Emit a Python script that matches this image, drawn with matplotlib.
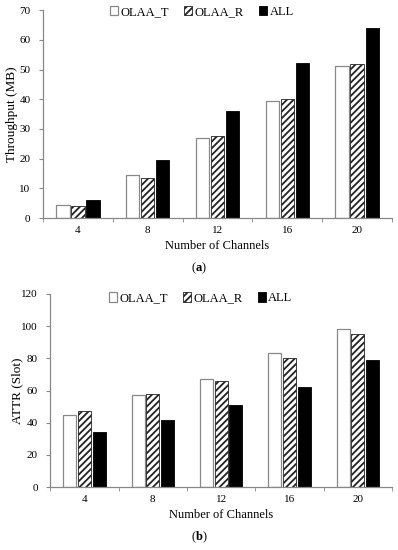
import matplotlib.pyplot as plt
import numpy as np

channels = ['4', '8', '12', '16', '20']
series = ['OLAA_T', 'OLAA_R', 'ALL']

throughput_t = [4.5, 14.5, 27.0, 39.3, 51.3]
throughput_r = [4.2, 13.5, 27.5, 40.0, 52.0]
throughput_all = [6.0, 19.5, 36.2, 52.3, 64.0]

attr_t = [45, 57, 67, 83, 98]
attr_r = [47, 58, 66, 80, 95]
attr_all = [34.5, 41.5, 51, 62, 79]

plt.rcParams['font.family'] = ['Liberation Serif', 'DejaVu Serif']
plt.rcParams['mathtext.fontset'] = 'custom'
plt.rcParams['mathtext.rm'] = 'Liberation Serif'
plt.rcParams['mathtext.bf'] = 'Liberation Serif:bold'
plt.rcParams['hatch.linewidth'] = 1.3

fig = plt.figure(figsize=(3.98, 5.5), dpi=100)
ax1 = fig.add_axes([0.108, 0.6036, 0.877, 0.378])
ax2 = fig.add_axes([0.126, 0.1145, 0.859, 0.351])

styles = [dict(facecolor='white', edgecolor='#888888', linewidth=0.9),
          dict(facecolor='white', edgecolor='#222222', hatch='/////', linewidth=0.6),
          dict(facecolor='black', edgecolor='black', linewidth=0.6)]


def draw(ax, data, ymax, ystep, ylabel, tag, tag_y, leg_x, leg_y, ylab_x):
    x = np.arange(1, len(channels) + 1)
    w = 0.19
    off = 0.215
    for i, (vals, st) in enumerate(zip(data, styles)):
        ax.bar(x + (i - 1) * off, vals, w, label=series[i], **st)
    ax.set_xlim(0.5, len(channels) + 0.5)
    ax.set_ylim(0, ymax)
    ax.set_yticks(np.arange(0, ymax + 1, ystep))
    ax.set_xticks(x)
    ax.set_xticklabels(channels)
    ax.set_xticks(np.arange(0.5, len(channels) + 1, 1), minor=True)
    ax.tick_params(axis='x', which='major', length=0, labelsize=8, pad=6)
    ax.tick_params(axis='x', which='minor', length=3, color='#888888', direction='out')
    ax.tick_params(axis='y', length=3, color='#888888', labelsize=8, pad=6)
    for s in ['top', 'right']:
        ax.spines[s].set_visible(False)
    for s in ['left', 'bottom']:
        ax.spines[s].set_color('#888888')
        ax.spines[s].set_linewidth(0.9)
    ax.set_ylabel(ylabel, fontsize=9.5)
    ax.yaxis.set_label_coords(ylab_x, 0.5)
    ax.set_xlabel('Number of Channels', fontsize=9, labelpad=3)
    ax.legend(loc='upper center', bbox_to_anchor=(leg_x, leg_y), ncol=3, frameon=False,
              fontsize=9, handlelength=0.65, handleheight=0.8, handletextpad=0.2,
              columnspacing=1.2, borderaxespad=0)
    fig.text(0.5, tag_y, r'($\mathbf{' + tag + '}$)', ha='center', va='center',
             fontsize=9)


draw(ax1, [throughput_t, throughput_r, throughput_all], 70, 10, 'Throughput (MB)', 'a',
     1 - 268 / 550, 0.455, 1.045, -0.072)
draw(ax2, [attr_t, attr_r, attr_all], 120, 20, 'ATTR (Slot)', 'b', 1 - 537 / 550,
     0.44, 1.035, -0.080)

fig.savefig('out.png', dpi=100)
